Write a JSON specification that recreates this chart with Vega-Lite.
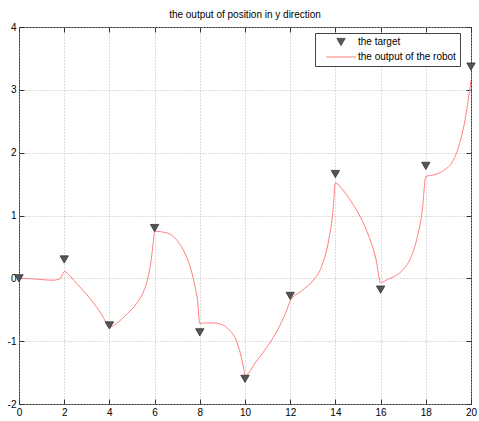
{
  "$schema": "https://vega.github.io/schema/vega-lite/v6.json",
  "width": 452,
  "height": 377,
  "autosize": "none",
  "padding": {"left": 19, "top": 27, "right": 8, "bottom": 17},
  "background": "white",
  "title": {"text": "the output of position in y direction", "fontSize": 10, "font": "Liberation Sans", "fontWeight": "normal", "color": "#000000", "offset": 2, "anchor": "middle"},
  "config": {
    "view": {"stroke": "#333333", "strokeWidth": 1},
    "axis": {"labelFont": "Liberation Sans", "labelFontSize": 10, "labelColor": "#000000", "domain": false, "tickColor": "#333333", "tickSize": -5, "gridColor": "#bbbbbb", "gridDash": [1, 2], "gridOpacity": 1, "title": null, "labelFlush": false, "labelExpr": "'' + datum.value"}
  },
  "datasets": {
    "target": [
      {"x": 0, "y": 0, "series": "the target"},
      {"x": 2, "y": 0.3, "series": "the target"},
      {"x": 4, "y": -0.75, "series": "the target"},
      {"x": 6, "y": 0.8, "series": "the target"},
      {"x": 8, "y": -0.86, "series": "the target"},
      {"x": 10, "y": -1.6, "series": "the target"},
      {"x": 12, "y": -0.28, "series": "the target"},
      {"x": 14, "y": 1.66, "series": "the target"},
      {"x": 16, "y": -0.18, "series": "the target"},
      {"x": 18, "y": 1.79, "series": "the target"},
      {"x": 20, "y": 3.37, "series": "the target"}
    ],
    "output": [
      {"x": 0, "y": 0}, {"x": 0.5, "y": -0.005}, {"x": 1.0, "y": -0.02}, {"x": 1.5, "y": -0.03}, {"x": 1.8, "y": -0.01}, {"x": 1.95, "y": 0.08}, {"x": 2.0, "y": 0.11},
      {"x": 2.3, "y": 0.02}, {"x": 2.6, "y": -0.1}, {"x": 3.0, "y": -0.26}, {"x": 3.4, "y": -0.44}, {"x": 3.7, "y": -0.6}, {"x": 4.0, "y": -0.78},
      {"x": 4.3, "y": -0.72}, {"x": 4.8, "y": -0.56}, {"x": 5.2, "y": -0.4}, {"x": 5.5, "y": -0.22}, {"x": 5.7, "y": 0.0}, {"x": 5.85, "y": 0.3}, {"x": 5.95, "y": 0.6}, {"x": 6.0, "y": 0.75},
      {"x": 6.3, "y": 0.74}, {"x": 6.7, "y": 0.7}, {"x": 7.0, "y": 0.6}, {"x": 7.3, "y": 0.43}, {"x": 7.6, "y": 0.15}, {"x": 7.8, "y": -0.15}, {"x": 7.9, "y": -0.35}, {"x": 8.0, "y": -0.72},
      {"x": 8.2, "y": -0.71}, {"x": 8.6, "y": -0.71}, {"x": 9.0, "y": -0.74}, {"x": 9.3, "y": -0.82}, {"x": 9.6, "y": -0.98}, {"x": 9.8, "y": -1.2}, {"x": 9.95, "y": -1.45}, {"x": 10.0, "y": -1.55},
      {"x": 10.5, "y": -1.32}, {"x": 11.0, "y": -1.08}, {"x": 11.5, "y": -0.78}, {"x": 11.8, "y": -0.55}, {"x": 12.0, "y": -0.36},
      {"x": 12.5, "y": -0.2}, {"x": 13.0, "y": -0.04}, {"x": 13.4, "y": 0.2}, {"x": 13.7, "y": 0.6}, {"x": 13.9, "y": 1.1}, {"x": 14.0, "y": 1.52},
      {"x": 14.3, "y": 1.42}, {"x": 14.7, "y": 1.22}, {"x": 15.1, "y": 0.98}, {"x": 15.5, "y": 0.65}, {"x": 15.8, "y": 0.3}, {"x": 16.0, "y": -0.07},
      {"x": 16.3, "y": -0.02}, {"x": 16.7, "y": 0.05}, {"x": 17.0, "y": 0.14}, {"x": 17.3, "y": 0.3}, {"x": 17.6, "y": 0.62}, {"x": 17.85, "y": 1.1}, {"x": 18.0, "y": 1.62},
      {"x": 18.4, "y": 1.65}, {"x": 18.8, "y": 1.72}, {"x": 19.2, "y": 1.87}, {"x": 19.5, "y": 2.15}, {"x": 19.75, "y": 2.55}, {"x": 19.9, "y": 2.9}, {"x": 20.0, "y": 3.15}
    ]
  },
  "layer": [
    {
      "data": {"name": "output"},
      "transform": [{"calculate": "'the output of the robot'", "as": "series"}],
      "mark": {"type": "line", "strokeWidth": 1, "interpolate": "monotone", "clip": true},
      "encoding": {
        "x": {"field": "x", "type": "quantitative", "scale": {"domain": [0, 20], "nice": false, "zero": false},
              "axis": {"orient": "bottom", "values": [0, 2, 4, 6, 8, 10, 12, 14, 16, 18, 20], "grid": true, "labelPadding": 8}},
        "y": {"field": "y", "type": "quantitative", "scale": {"domain": [-2, 4], "nice": false, "zero": false},
              "axis": {"orient": "left", "values": [-2, -1, 0, 1, 2, 3, 4], "grid": true, "labelPadding": 8}},
        "color": {"field": "series", "type": "nominal",
                  "scale": {"domain": ["the target", "the output of the robot"], "range": ["#555555", "#ff7f7f"]},
                  "legend": {
                    "orient": "none", "legendX": 296, "legendY": 6, "title": null,
                    "strokeColor": "#444444", "fillColor": "white", "padding": 4,
                    "labelFont": "Liberation Sans", "labelFontSize": 10, "labelColor": "#000000",
                    "symbolSize": 81, "symbolOffset": 17, "rowPadding": 4, "labelOffset": 12,
                    "encode": {"symbols": {"update": {
                      "shape": {"signal": "datum.value == 'the target' ? 'triangle-down' : 'M-3.3,0H3.3'"},
                      "size": {"signal": "datum.value == 'the target' ? 70 : 81"},
                      "fill": {"signal": "datum.value == 'the target' ? '#555555' : 'transparent'"},
                      "stroke": {"signal": "datum.value == 'the target' ? '#333333' : '#ff7f7f'"},
                      "strokeWidth": {"value": 1},
                      "opacity": {"value": 1}
                    }}}
                  }}
      }
    },
    {
      "data": {"name": "target"},
      "mark": {"type": "point", "shape": "triangle-down", "size": 70, "filled": true, "opacity": 1, "stroke": "#333333", "strokeWidth": 0.8, "clip": false},
      "encoding": {
        "x": {"field": "x", "type": "quantitative", "axis": {"orient": "top", "values": [0, 2, 4, 6, 8, 10, 12, 14, 16, 18, 20], "labels": false, "grid": false}},
        "y": {"field": "y", "type": "quantitative", "axis": {"orient": "right", "values": [-2, -1, 0, 1, 2, 3, 4], "labels": false, "grid": false}},
        "color": {"field": "series", "type": "nominal"}
      }
    }
  ],
  "resolve": {"axis": {"x": "independent", "y": "independent"}}
}
